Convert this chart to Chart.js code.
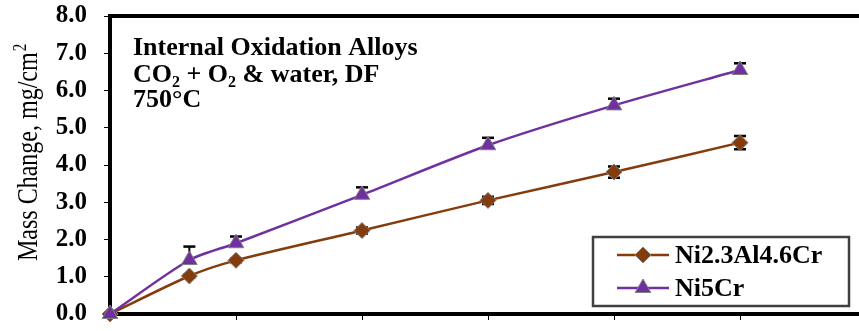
<!DOCTYPE html>
<html>
<head>
<meta charset="utf-8">
<script src="https://cdn.jsdelivr.net/npm/chart.js@4/dist/chart.umd.min.js"></script>
<style>
  html, body { margin: 0; padding: 0; background: #fff; overflow: hidden; }
  #wrap { width: 900px; height: 331px; }
</style>
</head>
<body>
<div id="wrap"><canvas id="chart" width="900" height="331"></canvas></div>
<script>
// exposure time (h) and mass change (mg/cm2)
const hours = [0, 63, 100, 200, 300, 400, 500];
const niAlCr = [0, 1.02, 1.44, 2.24, 3.05, 3.81, 4.60];
const niAlCrErr = [0, 0.04, 0.05, 0.08, 0.10, 0.15, 0.18];
const ni5Cr = [0, 1.45, 1.90, 3.20, 4.53, 5.60, 6.55];
const ni5CrErr = [0, 0.36, 0.18, 0.20, 0.20, 0.18, 0.18];
const seriesNames = ['Ni2.3Al4.6Cr', 'Ni5Cr'];
const noteLines = ['Internal Oxidation Alloys', 'CO|2| + O|2| & water, DF', '750°C'];

const SERIF = "'Liberation Serif', 'Times New Roman', serif";
const BROWN = '#843C0C';
const PURPLE = '#7030A0';

const pts = vals => hours.map((x, i) => ({ x, y: vals[i] }));

// vertical error bars, drawn under the markers
const errorBars = {
  id: 'errorBars',
  beforeDatasetsDraw(chart) {
    const { ctx, scales: { x, y } } = chart;
    ctx.save();
    ctx.strokeStyle = '#000';
    chart.data.datasets.forEach(ds => {
      ds.data.forEach((p, i) => {
        const up = ds.errUp[i], down = ds.errDown[i];
        if (!up && !down) return;
        const px = x.getPixelForValue(p.x);
        const top = y.getPixelForValue(p.y + up);
        const bot = y.getPixelForValue(p.y - down);
        ctx.lineWidth = 2;
        ctx.beginPath();
        ctx.moveTo(px, top); ctx.lineTo(px, bot);
        ctx.stroke();
        ctx.lineWidth = 2.5;
        ctx.beginPath();
        if (up) { ctx.moveTo(px - 6, top); ctx.lineTo(px + 6, top); }
        if (down) { ctx.moveTo(px - 6, bot); ctx.lineTo(px + 6, bot); }
        ctx.stroke();
      });
    });
    ctx.restore();
  }
};

// frame, y title, note text and boxed legend
const extras = {
  id: 'extras',
  afterDraw(chart) {
    const { ctx, chartArea: a } = chart;
    ctx.save();

    ctx.strokeStyle = '#000';
    ctx.lineWidth = 4;
    ctx.beginPath();
    ctx.moveTo(a.left - 2, a.top);
    ctx.lineTo(a.right, a.top);
    ctx.lineTo(a.right, a.bottom);
    ctx.stroke();

    // y axis title (glyphs a bit taller, like the original)
    ctx.fillStyle = '#000';
    ctx.save();
    ctx.translate(37, 261);
    ctx.rotate(-Math.PI / 2);
    ctx.scale(1, 1.25);
    ctx.font = `24px ${SERIF}`;
    ctx.textBaseline = 'alphabetic';
    ctx.textAlign = 'left';
    const t = 'Mass Change, mg/cm';
    ctx.fillText(t, 0, 0);
    const w = ctx.measureText(t).width;
    ctx.font = `15px ${SERIF}`;
    ctx.fillText('2', w + 1, -9);
    ctx.restore();

    // note text with subscripts
    ctx.textBaseline = 'alphabetic';
    ctx.textAlign = 'left';
    const baselines = [55, 82, 107];
    noteLines.forEach((line, li) => {
      let x = 133;
      line.split('|').forEach((part, k) => {
        const sub = k % 2 === 1;
        ctx.font = `bold ${sub ? 16 : 26}px ${SERIF}`;
        ctx.fillText(part, x, baselines[li] + (sub ? 5 : 0));
        x += ctx.measureText(part).width;
      });
    });

    // legend box
    ctx.strokeStyle = '#404040';
    ctx.lineWidth = 2.5;
    ctx.strokeRect(593, 237, 256, 69);
    const rows = [255, 288];
    chart.data.datasets.forEach((ds, i) => {
      const ry = rows[i];
      ctx.strokeStyle = ds.borderColor;
      ctx.lineWidth = 2.5;
      ctx.beginPath();
      ctx.moveTo(617, ry); ctx.lineTo(669, ry);
      ctx.stroke();
      ctx.fillStyle = ds.pointBackgroundColor;
      ctx.strokeStyle = ds.pointBorderColor;
      ctx.lineWidth = 1;
      Chart.helpers.drawPoint(ctx, {
        pointStyle: ds.pointStyle, radius: ds.pointRadius, rotation: 0, borderWidth: 1
      }, 643, ry);
      ctx.fillStyle = '#000';
      ctx.font = `bold 26px ${SERIF}`;
      ctx.fillText(ds.label, 675, ry + 8);
    });

    ctx.restore();
  }
};

new Chart(document.getElementById('chart'), {
  type: 'line',
  data: {
    datasets: [
      {
        label: seriesNames[0],
        data: pts(niAlCr),
        errUp: niAlCrErr,
        errDown: niAlCrErr,
        borderColor: BROWN,
        borderWidth: 2.5,
        tension: 0.25,
        pointStyle: 'rectRot',
        pointRadius: 8,
        pointBackgroundColor: BROWN,
        pointBorderColor: '#7F7F7F',
        pointBorderWidth: 1,
        order: 1,
        clip: false,
      },
      {
        label: seriesNames[1],
        data: pts(ni5Cr),
        errUp: ni5CrErr,
        errDown: hours.map(() => 0),
        borderColor: PURPLE,
        borderWidth: 2.5,
        tension: 0.25,
        pointStyle: 'triangle',
        pointRadius: 9,
        pointBackgroundColor: PURPLE,
        pointBorderColor: '#7F7F7F',
        pointBorderWidth: 1,
        order: 0,
        clip: false,
      },
    ],
  },
  options: {
    responsive: false,
    animation: false,
    devicePixelRatio: 1,
    layout: { padding: { left: 0, top: 16, right: 34, bottom: 0 } },
    plugins: {
      legend: { display: false },
      tooltip: { enabled: false },
    },
    scales: {
      x: {
        type: 'linear',
        min: 0,
        max: 600,
        ticks: { stepSize: 100, display: false },
        grid: { drawOnChartArea: false, drawTicks: true, tickLength: 6, color: '#000', lineWidth: 1 },
        border: { display: true, width: 4, color: '#000' },
        afterFit: s => { s.height = 17; },
      },
      y: {
        min: 0,
        max: 8,
        ticks: {
          stepSize: 1,
          padding: 17,
          color: '#000',
          font: { family: SERIF, size: 25, weight: 'bold' },
          callback: v => v.toFixed(1),
        },
        grid: { drawOnChartArea: false, drawTicks: true, tickLength: 6, color: '#000', lineWidth: 1 },
        border: { display: true, width: 4, color: '#000' },
        afterFit: s => { s.width = 110; s.paddingTop = 0; s.paddingBottom = 0; },
      },
    },
  },
  plugins: [errorBars, extras],
});
</script>
</body>
</html>
